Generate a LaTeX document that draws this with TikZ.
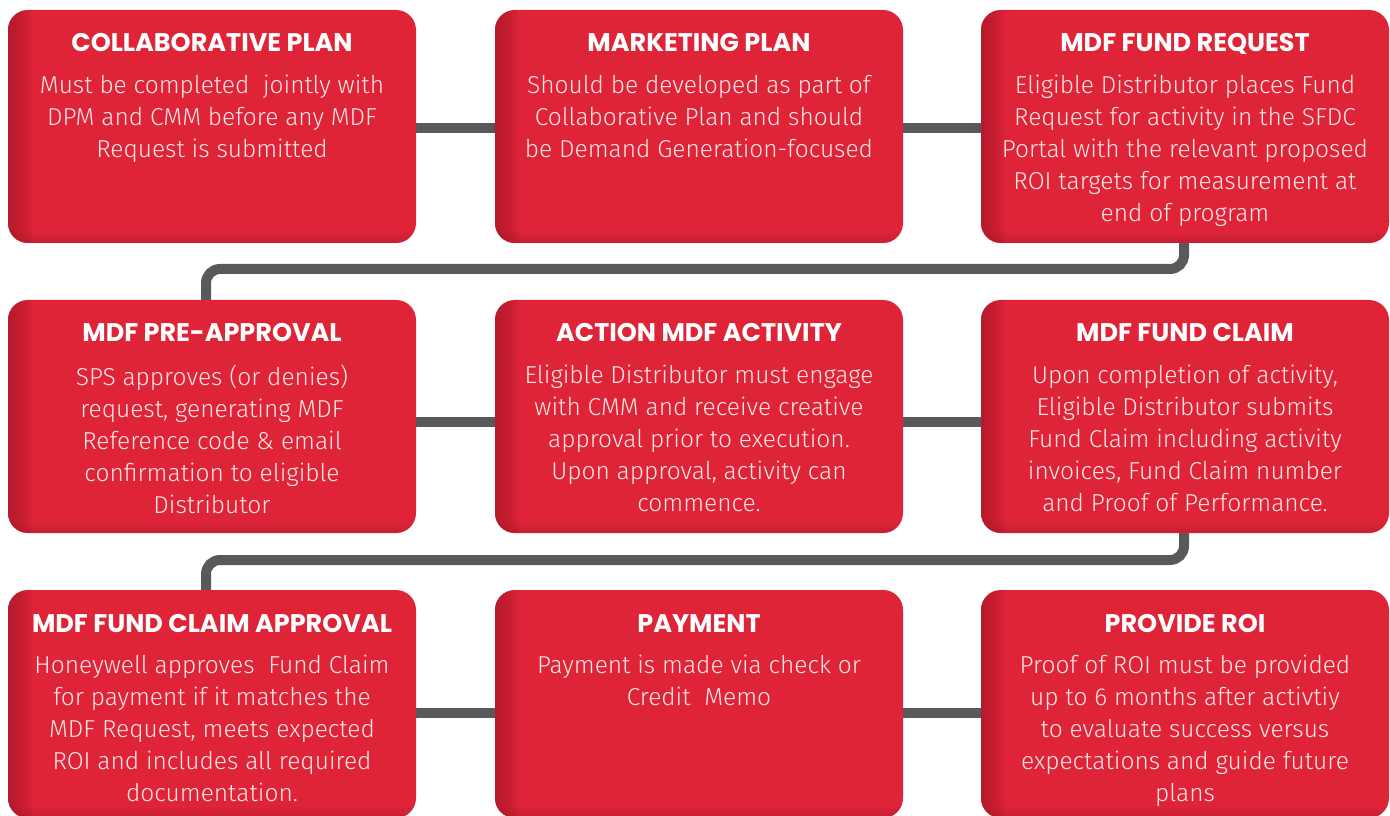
\documentclass[tikz,border=0pt]{standalone}
\usepackage{fontspec}
\setmainfont{Fira Sans Light}[BoldFont={Fira Sans Bold}]
\newfontfamily\headfont{Poppins}[UprightFont={* Bold}]
\usetikzlibrary{backgrounds}

\definecolor{cardred}{HTML}{E02438}
\definecolor{cardedge}{HTML}{A8192A}
\definecolor{linkgray}{HTML}{58595B}
\definecolor{bodytext}{HTML}{FCE6E8}

\tikzset{
  card/.style={rounded corners=20pt, fill=cardred, minimum width=408pt,
    minimum height=233pt, inner sep=0pt, outer sep=0pt,
    path picture={
      % soft darkening along the left and bottom edges
      \foreach \w in {3,6,...,24}
        \fill[sharp corners, cardedge, opacity=0.14]
          (path picture bounding box.south west) rectangle
          ([xshift=\w pt]path picture bounding box.north west);
      \foreach \h in {2,4,...,12}
        \fill[sharp corners, cardedge, opacity=0.07]
          (path picture bounding box.south west) rectangle
          ([yshift=\h pt]path picture bounding box.south east);
    }},
  heading/.style={anchor=base, text=white, inner sep=0pt,
    font=\fontsize{25.5}{28}\headfont},
  body/.style={anchor=north, text=bodytext, inner sep=0pt, align=center,
    font=\fontsize{24.5}{32}\selectfont},
  conn/.style={draw=linkgray, line width=10pt},
}

\begin{document}
\begin{tikzpicture}[x=1pt, y=1pt]
\useasboundingbox (0,0) rectangle (1390,815);

% cards
\node[card] (c1) at (212,688.5) {};
\node[card] (c2) at (699,688.5) {};
\node[card] (c3) at (1185,688.5) {};
\node[card] (c4) at (212,398.5) {};
\node[card] (c5) at (699,398.5) {};
\node[card] (c6) at (1185,398.5) {};
\node[card, minimum height=228pt] (c7) at (212,111) {};
\node[card, minimum height=228pt] (c8) at (699,111) {};
\node[card, minimum height=228pt] (c9) at (1185,111) {};

% headings
\node[heading] (h1) at ([yshift=-42pt]c1.north) {COLLABORATIVE PLAN};
\node[heading] (h2) at ([yshift=-42pt]c2.north) {MARKETING PLAN};
\node[heading] (h3) at ([yshift=-42pt]c3.north) {MDF FUND REQUEST};
\node[heading] (h4) at ([yshift=-42pt]c4.north) {MDF PRE-APPROVAL};
\node[heading] (h5) at ([yshift=-42pt]c5.north) {ACTION MDF ACTIVITY};
\node[heading] (h6) at ([yshift=-42pt]c6.north) {MDF FUND CLAIM};
\node[heading] (h7) at ([yshift=-42pt]c7.north) {MDF FUND CLAIM APPROVAL};
\node[heading] (h8) at ([yshift=-42pt]c8.north) {PAYMENT};
\node[heading] (h9) at ([yshift=-42pt]c9.north) {PROVIDE ROI};

% descriptions
\node[body] (d1) at ([yshift=-65pt]c1.north)
  {Must be completed\ \ jointly with\\DPM and CMM before any MDF\\Request is submitted};
\node[body] (d2) at ([yshift=-65pt]c2.north)
  {Should be developed as part of\\Collaborative Plan and should\\be Demand Generation-focused};
\node[body] (d3) at ([yshift=-65pt]c3.north)
  {Eligible Distributor places Fund\\Request for activity in the SFDC\\Portal with the relevant proposed\\ROI targets for measurement at\\end of program};
\node[body] (d4) at ([yshift=-65pt]c4.north)
  {SPS approves (or denies)\\request, generating MDF\\Reference code \& email\\confirmation to eligible\\Distributor};
\node[body] (d5) at ([yshift=-65pt]c5.north)
  {Eligible Distributor must engage\\with CMM and receive creative\\approval prior to execution.\\Upon approval, activity can\\commence.};
\node[body] (d6) at ([yshift=-65pt]c6.north)
  {Upon completion of activity,\\Eligible Distributor submits\\Fund Claim including activity\\invoices, Fund Claim number\\and Proof of Performance.};
\node[body] (d7) at ([yshift=-65pt]c7.north)
  {Honeywell approves\ \ Fund Claim\\for payment if it matches the\\MDF Request, meets expected\\ROI and includes all required\\documentation.};
\node[body] (d8) at ([yshift=-65pt]c8.north)
  {Payment is made via check or\\Credit\ \ Memo};
\node[body] (d9) at ([yshift=-65pt]c9.north)
  {Proof of ROI must be provided\\up to 6 months after activtiy\\to evaluate success versus\\expectations and guide future\\plans};

% turning points of the row-to-row links
\coordinate (r1a) at (1184,546);
\coordinate (r1b) at (206,546);
\coordinate (r2a) at (1184,255);
\coordinate (r2b) at (206,255);

\begin{scope}[on background layer]
  \draw[conn] (c1.east |- 0,686.5) -- (c2.west |- 0,686.5);
  \draw[conn] (c2.east |- 0,686.5) -- (c3.west |- 0,686.5);
  \draw[conn] (c4.east |- 0,393) -- (c5.west |- 0,393);
  \draw[conn] (c5.east |- 0,393) -- (c6.west |- 0,393);
  \draw[conn] (c7.east |- 0,102) -- (c8.west |- 0,102);
  \draw[conn] (c8.east |- 0,102) -- (c9.west |- 0,102);
  \draw[conn, rounded corners=14pt]
    ([yshift=10pt]c3.south -| r1a) -- (r1a) -- (r1b) -- ([yshift=-10pt]c4.north -| r1b);
  \draw[conn, rounded corners=14pt]
    ([yshift=10pt]c6.south -| r2a) -- (r2a) -- (r2b) -- ([yshift=-10pt]c7.north -| r2b);
\end{scope}
\end{tikzpicture}
\end{document}
